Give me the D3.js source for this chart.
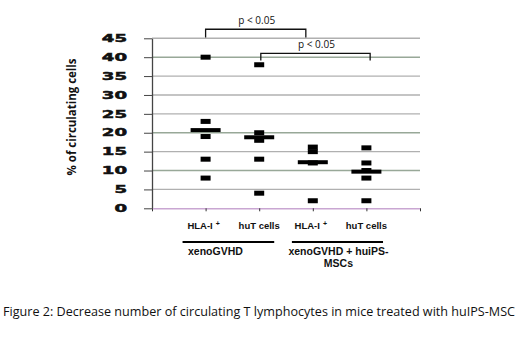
<!DOCTYPE html>
<html>
<head>
<meta charset="utf-8">
<script src="https://cdn.jsdelivr.net/npm/d3@7"></script>
<style>
  body { margin: 0; background: #fff; }
  svg { display: block; }
</style>
</head>
<body>
<script>
// data
var groups = [1, 2, 3, 4];
var groupLabels = ["HLA-I", "huT cells", "HLA-I", "huT cells"];
var groupSup = ["+", "", "+", ""];
var values1 = [40, 23, 19, 13, 8];
var values2 = [38, 20, 18, 13, 4];
var values3 = [16.2, 15, 12, 2];
var values4 = [16, 12, 10, 8, 2];
var means = [20.7, 18.8, 12.2, 9.7];
var yTicks = [0, 5, 10, 15, 20, 25, 30, 35, 40, 45];
var brackets = [
  {from: 1, to: 2.87, top: 47.4, end: 45.2, label: "p < 0.05"},
  {from: 2.03, to: 4.07, top: 41.0, end: 39.1, label: "p < 0.05"}
];
var conditions = [
  {from: 0.57, to: 2.28, lines: ["xenoGVHD"]},
  {from: 2.61, to: 4.31, lines: ["xenoGVHD + huiPS-", "MSCs"]}
];

var width = 520, height = 341;

var svg = d3.select("body").append("svg")
    .attr("width", width)
    .attr("height", height);

var x = d3.scaleLinear().domain([0, 5]).range([152, 420]);
var y = d3.scaleLinear().domain([0, 45]).range([208.3, 38.3]);

// gridlines
svg.append("g")
  .selectAll("line")
  .data(yTicks.filter(d => d > 0))
  .enter().append("line")
    .attr("x1", x(0)).attr("x2", x(5))
    .attr("y1", d => y(d)).attr("y2", d => y(d))
    .attr("stroke", d => (d == 10 || d == 20 || d == 40) ? "#98a898" : "#b0b0b0")
    .attr("stroke-width", 1.4);

// Y axis
var yAxis = svg.append("g")
    .attr("transform", "translate(" + x(0) + ",0)")
    .call(d3.axisLeft(y).tickValues(yTicks).tickSize(8).tickSizeOuter(0).tickPadding(17));
yAxis.select(".domain").attr("stroke", "#444").attr("stroke-width", 1.3);
yAxis.selectAll(".tick line").attr("stroke", "#444");
yAxis.selectAll(".tick text")
    .attr("font-family", "DejaVu Sans")
    .attr("font-weight", "bold")
    .attr("font-size", 10)
    .attr("fill", "#111")
    .attr("stroke", "#111")
    .attr("stroke-width", 0.5)
    .attr("textLength", d => String(d).length * 12.6)
    .attr("lengthAdjust", "spacingAndGlyphs");

// X axis
var xAxis = svg.append("g")
    .attr("transform", "translate(0," + y(0) + ")")
    .call(d3.axisBottom(x).tickValues([0, 1, 2, 3, 4, 5]).tickSize(3).tickSizeOuter(0).tickFormat(""));
xAxis.select(".domain").attr("stroke", "#c9a6d2").attr("stroke-width", 1.5);
xAxis.selectAll(".tick line").attr("stroke", "#333");

// y title
svg.append("text")
    .attr("transform", "translate(76,117) rotate(-90)")
    .attr("text-anchor", "middle")
    .attr("font-family", "Open Sans")
    .attr("font-weight", "bold")
    .attr("font-size", 12.5)
    .attr("fill", "#111")
    .attr("textLength", 117)
    .attr("lengthAdjust", "spacingAndGlyphs")
    .text("% of circulating cells");

// points
var allValues = [values1, values2, values3, values4];
var pts = [];
allValues.forEach(function(vals, i) {
  vals.forEach(function(v) { pts.push({g: groups[i], v: v}); });
});

svg.append("g")
  .selectAll("rect")
  .data(pts)
  .enter().append("rect")
    .attr("x", d => x(d.g) - 5)
    .attr("y", d => y(d.v) - 2.5)
    .attr("width", 10)
    .attr("height", 5)
    .attr("fill", "#000");

// mean lines
svg.append("g")
  .selectAll("rect")
  .data(means)
  .enter().append("rect")
    .attr("x", (d, i) => x(groups[i]) - 15)
    .attr("y", d => y(d) - 2)
    .attr("width", 30)
    .attr("height", 4)
    .attr("fill", "#000");

// significance brackets
brackets.forEach(function(b) {
  svg.append("path")
      .attr("d", "M" + x(b.from) + "," + y(b.end) + "V" + y(b.top) + "H" + x(b.to) + "V" + y(b.end))
      .attr("fill", "none")
      .attr("stroke", "#111")
      .attr("stroke-width", 1.3);
  svg.append("text")
      .attr("x", (x(b.from) + x(b.to)) / 2 + 1)
      .attr("y", y(b.top) - 5)
      .attr("text-anchor", "middle")
      .attr("font-family", "Open Sans")
      .attr("font-size", 10)
      .attr("fill", "#111")
      .text(b.label);
});

// category labels
var lab = svg.append("g")
  .selectAll("text")
  .data(groupLabels)
  .enter().append("text")
    .attr("x", (d, i) => x(groups[i]) - (groupSup[i] ? 2 : 0))
    .attr("y", 229)
    .attr("text-anchor", "middle")
    .attr("font-family", "Liberation Sans")
    .attr("font-weight", "bold")
    .attr("font-size", 9.5)
    .attr("fill", "#111");
lab.append("tspan").text(d => d);
lab.append("tspan")
    .attr("dx", 3)
    .attr("dy", -3)
    .attr("font-size", 7)
    .text((d, i) => groupSup[i]);

// condition underlines and labels
conditions.forEach(function(c) {
  svg.append("line")
      .attr("x1", x(c.from)).attr("x2", x(c.to))
      .attr("y1", 242).attr("y2", 242)
      .attr("stroke", "#000")
      .attr("stroke-width", 2.2);
  c.lines.forEach(function(t, j) {
    svg.append("text")
        .attr("x", (x(c.from) + x(c.to)) / 2 - (j == 0 && c.lines.length == 1 ? 13 : -1))
        .attr("y", 255 + j * 11.5)
        .attr("text-anchor", "middle")
        .attr("font-family", "Liberation Sans")
        .attr("font-weight", "bold")
        .attr("font-size", 10.5)
        .attr("fill", "#111")
        .text(t);
  });
});

// caption
svg.append("text")
    .attr("x", 3)
    .attr("y", 316)
    .attr("font-family", "Open Sans")
    .attr("font-size", 12.5)
    .attr("fill", "#111")
    .attr("textLength", 512)
    .attr("lengthAdjust", "spacingAndGlyphs")
    .text("Figure 2: Decrease number of circulating T lymphocytes in mice treated with huIPS-MSC");
</script>
</body>
</html>
